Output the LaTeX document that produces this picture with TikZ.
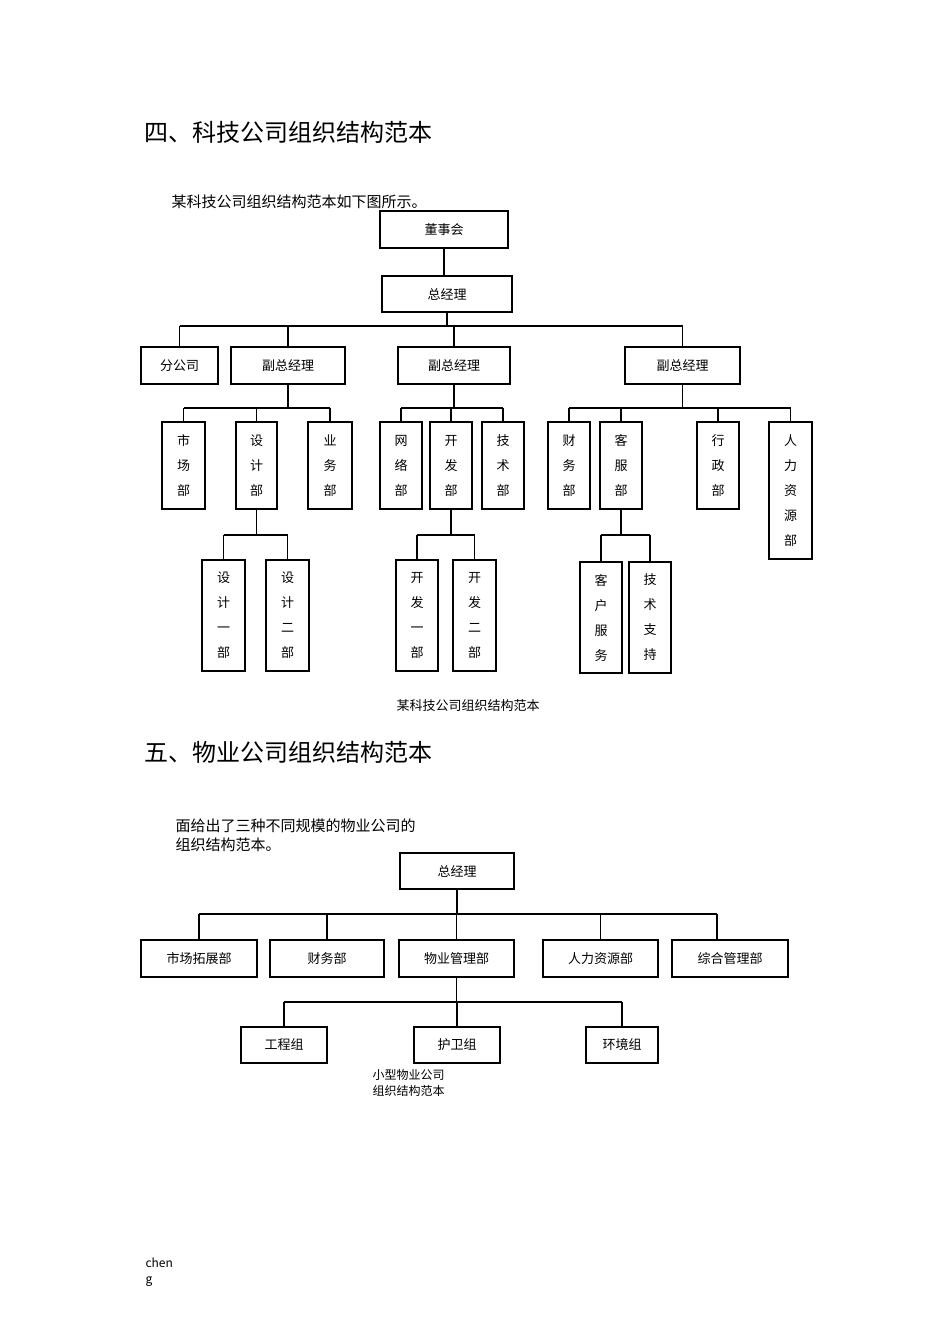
\documentclass[tikz,border=0pt]{standalone}
\usepackage{fontspec}
\setmainfont{Noto Sans CJK SC}
\begin{document}
\begin{tikzpicture}[x=1pt,y=-1pt,
 box/.style={draw,line width=1.1pt,inner sep=0pt,font=\fontsize{13}{25}\selectfont,align=center},
 ln/.style={line width=1.1pt}]
\useasboundingbox (0,0) rectangle (950,1344);
\newcommand\bx[6]{\node[box,minimum width={#4-#2},minimum height={#5-#3}] (#1) at ({(#2+#4)/2},{(#3+#5)/2}) {#6};}
\node[anchor=west,font=\fontsize{24}{28}\selectfont] at (141,132) {四、科技公司组织结构范本};
\node[anchor=west,font=\fontsize{15}{18}\selectfont] at (168,202) {某科技公司组织结构范本如下图所示。};
\bx{dsh}{380}{211}{508}{248}{董事会}
\bx{zjl}{382}{276}{512}{312}{总经理}
\bx{fgs}{141}{347}{218}{384}{分公司}
\bx{f1}{231}{347}{345}{384}{副总经理}
\bx{f2}{398}{347}{510}{384}{副总经理}
\bx{f3}{625}{347}{740}{384}{副总经理}
\bx{sc}{162}{422}{205}{509}{市\\场\\部}
\bx{sj}{236}{422}{277}{509}{设\\计\\部}
\bx{yw}{308}{422}{352}{509}{业\\务\\部}
\bx{wl}{380}{422}{422}{509}{网\\络\\部}
\bx{kf}{430}{422}{472}{509}{开\\发\\部}
\bx{js}{482}{422}{524}{509}{技\\术\\部}
\bx{cw}{548}{422}{590}{509}{财\\务\\部}
\bx{kfu}{600}{422}{642}{509}{客\\服\\部}
\bx{xz}{697}{422}{739}{509}{行\\政\\部}
\bx{rl}{769}{422}{812}{559}{人\\力\\资\\源\\部}
\bx{sj1}{202}{560}{245}{671}{设\\计\\一\\部}
\bx{sj2}{266}{560}{309}{671}{设\\计\\二\\部}
\bx{kf1}{396}{560}{438}{671}{开\\发\\一\\部}
\bx{kf2}{453}{560}{496}{671}{开\\发\\二\\部}
\bx{kh}{580}{562}{622}{673}{客\\户\\服\\务}
\bx{zc}{629}{562}{671}{673}{技\\术\\支\\持}
\draw[ln] (dsh.south) -- (dsh.south |- zjl.north);
\coordinate (b0) at (0,326);
\draw[ln] (fgs.north |- b0) -- (f3.north |- b0);
\draw[ln] (zjl.south) -- (zjl.south |- b0);
\draw[ln] (fgs.north) -- (fgs.north |- b0);
\draw[ln] (f1.north) -- (f1.north |- b0);
\draw[ln] (f2.north) -- (f2.north |- b0);
\draw[ln] (f3.north) -- (f3.north |- b0);
\coordinate (b1) at (0,408);
\foreach \p/\a/\b in {f1/sc/yw,f2/wl/js,f3/cw/rl}{
 \draw[ln] (\a.north |- b1) -- (\b.north |- b1);
 \draw[ln] (\p.south) -- (\p.south |- b1);}
\foreach \c in {sc,sj,yw,wl,kf,js,cw,kfu,xz,rl} \draw[ln] (\c.north) -- (\c.north |- b1);
\coordinate (b2) at (0,535);
\foreach \p/\a/\b in {sj/sj1/sj2,kf/kf1/kf2,kfu/kh/zc}{
 \draw[ln] (\a.north |- b2) -- (\b.north |- b2);
 \draw[ln] (\p.south) -- (\p.south |- b2);
 \draw[ln] (\a.north) -- (\a.north |- b2);
 \draw[ln] (\b.north) -- (\b.north |- b2);}
\node[font=\fontsize{13}{16}\selectfont] at (468,706) {某科技公司组织结构范本};
\node[anchor=west,font=\fontsize{24}{28}\selectfont] at (141,752) {五、物业公司组织结构范本};
\node[anchor=north west,align=left,font=\fontsize{15}{19}\selectfont] at (172,815) {面给出了三种不同规模的物业公司的\\组织结构范本。};
\bx{zj}{400}{853}{514}{889}{总经理}
\bx{sctz}{141}{940}{257}{977}{市场拓展部}
\bx{cwb}{270}{940}{384}{977}{财务部}
\bx{wy}{399}{940}{514}{977}{物业管理部}
\bx{rlzy}{543}{940}{658}{977}{人力资源部}
\bx{zh}{672}{940}{788}{977}{综合管理部}
\bx{gc}{241}{1027}{327}{1063}{工程组}
\bx{hw}{414}{1027}{500}{1063}{护卫组}
\bx{hj}{586}{1027}{658}{1063}{环境组}
\coordinate (b3) at (0,914);
\coordinate (zhx) at (717,0);
\draw[ln] (sctz.north |- b3) -- (zhx |- b3);
\draw[ln] (zj.south) -- (zj.south |- b3);
\foreach \c in {sctz,cwb,wy,rlzy} \draw[ln] (\c.north) -- (\c.north |- b3);
\draw[ln] (zhx |- zh.north) -- (zhx |- b3);
\coordinate (b4) at (0,1002);
\draw[ln] (gc.north |- b4) -- (hj.north |- b4);
\draw[ln] (wy.south) -- (wy.south |- b4);
\foreach \c in {gc,hw,hj} \draw[ln] (\c.north) -- (\c.north |- b4);
\node[anchor=north west,align=left,font=\fontsize{12}{16}\selectfont] at (369,1066) {小型物业公司\\组织结构范本};
\node[anchor=north west,align=left,font=\fontsize{12}{16}\selectfont] at (142,1254) {chen\\g};
\end{tikzpicture}
\end{document}
